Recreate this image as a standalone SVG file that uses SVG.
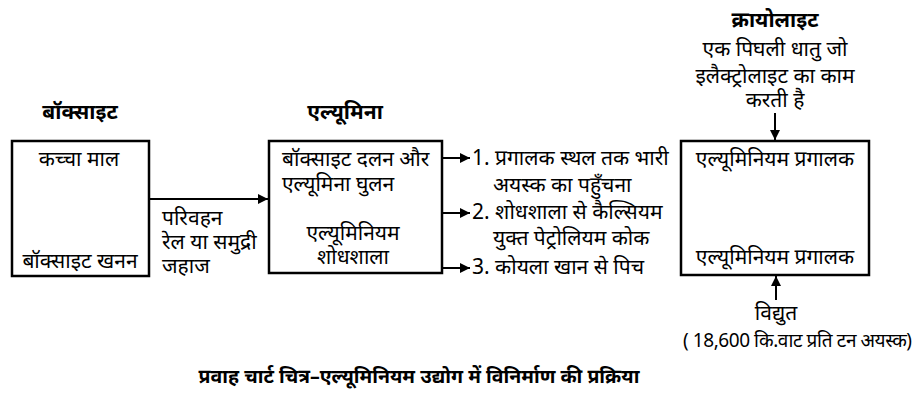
<svg xmlns="http://www.w3.org/2000/svg" width="921" height="419" viewBox="0 0 921 419">
<style>
text{font-family:"Noto Sans","Noto Sans Devanagari",sans-serif;font-size:21px;fill:#000}
.b{font-weight:bold}
.c{text-anchor:middle}
.box{fill:#fff;stroke:#000;stroke-width:2.5}
.ln{stroke:#000;stroke-width:2;fill:none}
</style>
<defs>
<marker id="ah" viewBox="0 0 10 10" refX="10" refY="5" markerWidth="10" markerHeight="10" markerUnits="userSpaceOnUse" orient="auto">
<path d="M0,0 L10,5 L0,10 Z" fill="#000"/>
</marker>
</defs>
<rect width="921" height="419" fill="#fff"/>
<g id="bauxite">
<text class="b c" x="80" y="119">बॉक्साइट</text>
<rect class="box" x="12" y="141" width="137" height="135"/>
<text class="c" x="79" y="166">कच्चा माल</text>
<text class="c" x="80" y="268">बॉक्साइट खनन</text>
</g>
<g id="alumina">
<text class="b c" x="345" y="119">एल्यूमिना</text>
<rect class="box" x="269" y="141" width="173" height="132"/>
<text x="282" y="166">बॉक्साइट दलन और</text>
<text x="282" y="191">एल्यूमिना घुलन</text>
<text class="c" x="353" y="240">एल्यूमिनियम</text>
<text class="c" x="353" y="264">शोधशाला</text>
</g>
<g id="products">
<text x="472" y="165">1. प्रगालक स्थल तक भारी</text>
<text x="493" y="192">अयस्क का पहुँचना</text>
<text x="472" y="219">2. शोधशाला से कैल्सियम</text>
<text x="493" y="245">युक्त पेट्रोलियम कोक</text>
<text x="472" y="274">3. कोयला खान से पिच</text>
</g>
<g id="transport">
<text x="162" y="225">परिवहन</text>
<text x="162" y="249">रेल या समुद्री</text>
<text x="162" y="273">जहाज</text>
</g>
<g id="cryolite">
<text class="b c" x="775" y="27">क्रायोलाइट</text>
<text class="c" x="775" y="56">एक पिघली धातु जो</text>
<text class="c" x="775" y="83">इलैक्ट्रोलाइट का काम</text>
<text class="c" x="775" y="107">करती है</text>
</g>
<g id="smelter">
<rect class="box" x="681" y="141" width="188" height="134"/>
<text class="c" x="775" y="166">एल्यूमिनियम प्रगालक</text>
<text class="c" x="775" y="264">एल्यूमिनियम प्रगालक</text>
</g>
<g id="electricity">
<text class="c" x="776" y="320">विद्युत</text>
<text x="683" y="347" style="font-size:19px" textLength="229">( 18,600 कि.वाट प्रति टन अयस्क)</text>
</g>
<g id="connectors">
<line class="ln" x1="149" y1="199" x2="268" y2="199" marker-end="url(#ah)"/>
<line class="ln" x1="442" y1="158" x2="470" y2="158" marker-end="url(#ah)"/>
<line class="ln" x1="442" y1="213" x2="470" y2="213" marker-end="url(#ah)"/>
<line class="ln" x1="442" y1="268" x2="470" y2="268" marker-end="url(#ah)"/>
<line class="ln" x1="775" y1="113" x2="775" y2="140" marker-end="url(#ah)"/>
<line class="ln" x1="776" y1="300" x2="776" y2="276" marker-end="url(#ah)"/>
</g>
<text class="b c" x="419" y="383" style="font-size:19.5px">प्रवाह चार्ट चित्र–एल्यूमिनियम उद्योग में विनिर्माण की प्रक्रिया</text>
</svg>
